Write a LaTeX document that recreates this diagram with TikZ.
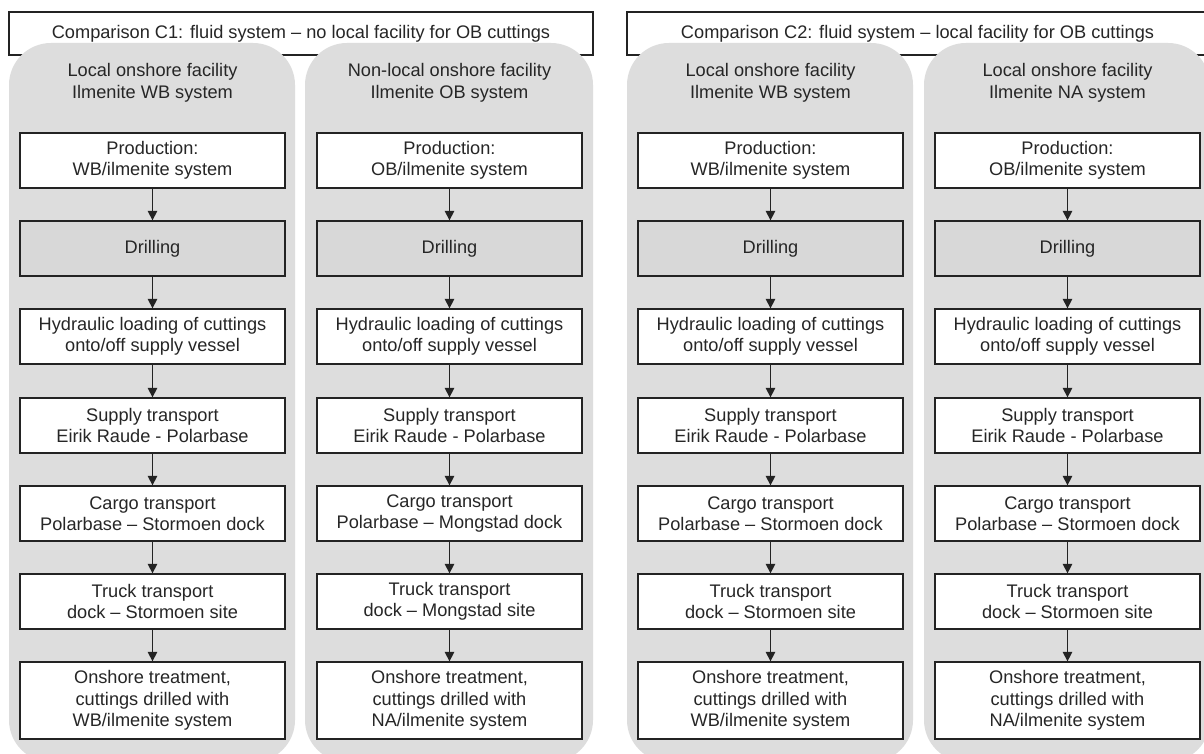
\documentclass[tikz,border=0pt]{standalone}
\usepackage{fontspec}
\setmainfont{Liberation Sans}
\usetikzlibrary{arrows.meta}
\definecolor{panelgray}{RGB}{221,221,221}
\definecolor{drillgray}{RGB}{216,216,216}
\definecolor{edge}{RGB}{35,35,35}
\begin{document}
\begin{tikzpicture}[x=1pt,y=-1pt,
  every node/.style={font=\fontsize{18.2}{21.5}\selectfont, text=black!85},
  titlebox/.style={draw=edge, line width=1.3pt, fill=white},
  panel/.style={fill=panelgray, rounded corners=42pt},
  stagebox/.style={draw=edge, line width=1.3pt, fill=white, minimum width=265pt,
    minimum height=55pt, inner sep=0pt, align=center},
  drillbox/.style={stagebox, fill=drillgray},
  lastbox/.style={stagebox, minimum height=77pt},
  heading/.style={align=center, inner sep=0pt},
  flow/.style={draw=edge, line width=1.3pt, -{Triangle[length=9.5pt,width=9.5pt]}}]
\useasboundingbox (0,0) rectangle (1204,754);
\clip (0,0) rectangle (1204,754);
\fill[white] (0,0) rectangle (1204,754);

% comparison title boxes
\draw[titlebox] (9,12) rectangle (593,55);
\draw[titlebox] (627,12) rectangle (1208,55);
\node (t1) at (301,33.5) {Comparison C1: fluid system -- no local facility for OB cuttings};
\node (t2) at (917.5,33.5) {Comparison C2: fluid system -- local facility for OB cuttings};

% grey system panels
\fill[panel] (9,43) rectangle (295,762);
\fill[panel] (305,43) rectangle (593,762);
\fill[panel] (627,43) rectangle (913,762);
\fill[panel] (924,43) rectangle (1210,762);

% one column of process stages per system
\foreach \c/\x/\head/\prod/\cargo/\truck/\fin in {
  1/152.5/{Local onshore facility\\Ilmenite WB system}/WB/Stormoen/Stormoen/WB,
  2/449.5/{Non-local onshore facility\\Ilmenite OB system}/OB/Mongstad/Mongstad/NA,
  3/770.5/{Local onshore facility\\Ilmenite WB system}/WB/Stormoen/Stormoen/WB,
  4/1067.5/{Local onshore facility\\Ilmenite NA system}/OB/Stormoen/Stormoen/NA}{
  \node[heading] (h\c) at (\x,83) {\head};
  \node[stagebox] (p\c) at (\x,160.5) {Production:\\\prod/ilmenite system};
  \node[drillbox] (d\c) at (\x,248.5) {Drilling};
  \node[stagebox] (l\c) at (\x,336.5) {Hydraulic loading of cuttings\\onto/off supply vessel};
  \node[stagebox] (s\c) at (\x,425.5) {Supply transport\\Eirik Raude - Polarbase};
  \node[stagebox] (g\c) at (\x,513.5) {Cargo transport\\Polarbase -- \cargo{} dock};
  \node[stagebox] (k\c) at (\x,601.5) {Truck transport\\dock -- \truck{} site};
  \node[lastbox] (o\c) at (\x,700.5) {Onshore treatment,\\cuttings drilled with\\\fin/ilmenite system};
  \draw[flow] (p\c) -- (d\c);
  \draw[flow] (d\c) -- (l\c);
  \draw[flow] (l\c) -- (s\c);
  \draw[flow] (s\c) -- (g\c);
  \draw[flow] (g\c) -- (k\c);
  \draw[flow] (k\c) -- (o\c);
}
\end{tikzpicture}
\end{document}
